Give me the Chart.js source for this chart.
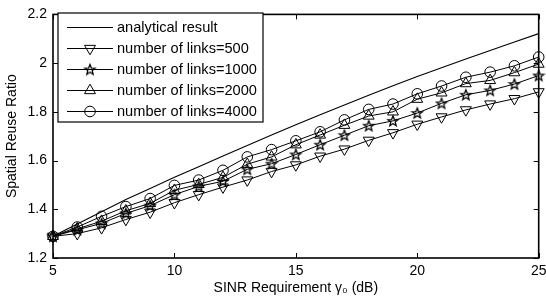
<!DOCTYPE html>
<html><head><meta charset="utf-8">
<script src="https://cdn.jsdelivr.net/npm/chart.js@4.4.1/dist/chart.umd.min.js"></script>
<style>html,body{margin:0;padding:0;background:#fff}#wrap{width:546px;height:303px}</style>
</head><body><div id="wrap"><canvas id="c" width="546" height="303"></canvas></div>
<script>
const sinr = [5,6,7,8,9,10,11,12,13,14,15,16,17,18,19,20,21,22,23,24,25];
const analytical = [1.289,1.340,1.390,1.440,1.485,1.531,1.575,1.619,1.662,1.705,1.747,1.788,1.828,1.868,1.907,1.945,1.981,2.017,2.052,2.087,2.121];
const links500  = [1.289,1.300,1.324,1.358,1.388,1.427,1.460,1.491,1.520,1.555,1.582,1.618,1.647,1.683,1.714,1.749,1.779,1.808,1.832,1.854,1.882];
const links1000 = [1.289,1.316,1.342,1.383,1.415,1.460,1.494,1.515,1.564,1.587,1.625,1.665,1.704,1.743,1.763,1.795,1.835,1.870,1.888,1.914,1.949];
const links2000 = [1.289,1.320,1.351,1.394,1.424,1.478,1.502,1.531,1.585,1.615,1.665,1.705,1.745,1.783,1.800,1.852,1.878,1.916,1.929,1.961,1.996];
const links4000 = [1.289,1.327,1.371,1.411,1.444,1.498,1.520,1.560,1.615,1.645,1.681,1.718,1.767,1.810,1.832,1.874,1.906,1.942,1.963,1.989,2.025];
const seriesLabels = ['analytical result','number of links=500','number of links=1000','number of links=2000','number of links=4000'];
const xTicks = [5,10,15,20,25];
const xTickLabels = ['5','10','15','20','25'];
const yTicks = [1.2,1.4,1.6,1.8,2.0,2.2];
const yTickLabels = ['1.2','1.4','1.6','1.8','2','2.2'];
const xTitle = 'SINR Requirement γ₀ (dB)';
const yTitle = 'Spatial Reuse Ratio';

// pentagram marker
function makeStar(){
  const cv = document.createElement('canvas');
  cv.width = 14; cv.height = 14;
  const g = cv.getContext('2d');
  g.strokeStyle = '#000'; g.lineWidth = 1.3;
  g.lineJoin = 'miter';
  g.beginPath();
  for (let i = 0; i < 10; i++) {
    const r = i % 2 === 0 ? 5.4 : 2.3;
    const a = -Math.PI/2 + i*Math.PI/5;
    const px = 7 + r*Math.cos(a), py = 7.4 + r*Math.sin(a);
    if (i === 0) g.moveTo(px, py); else g.lineTo(px, py);
  }
  g.closePath(); g.stroke();
  return cv;
}
const starImg = makeStar();

const FONT = "'Liberation Sans', Arial, Helvetica, sans-serif";
Chart.defaults.font.family = FONT;
Chart.defaults.font.size = 14;
Chart.defaults.color = '#000';

const pts = arr => arr.map((v,i)=>({x:sinr[i], y:v}));
const mk = (label, data, style, rot, r) => ({
  label, data: pts(data), borderColor:'#000', borderWidth:1,
  backgroundColor:'rgba(0,0,0,0)', pointBackgroundColor:'rgba(0,0,0,0)',
  pointBorderColor:'#000', pointBorderWidth:1,
  pointStyle: style, pointRotation: rot, pointRadius: r, pointHoverRadius: r,
  tension:0, clip:false
});
const datasets = [
  {label: seriesLabels[0], data: pts(analytical), borderColor:'#000', borderWidth:1.1, pointRadius:0, tension:0, clip:false, backgroundColor:'rgba(0,0,0,0)'},
  mk(seriesLabels[1], links500, 'triangle', 180, 6.3),
  mk(seriesLabels[2], links1000, starImg, 0, 5),
  mk(seriesLabels[3], links2000, 'triangle', 0, 6.3),
  mk(seriesLabels[4], links4000, 'circle', 0, 5.3)
];

const frame = {
  id:'frame',
  afterDraw(chart){
    const ctx = chart.ctx, a = chart.chartArea;
    const xs = chart.scales.x, ys = chart.scales.y;
    ctx.save();
    ctx.strokeStyle = '#000';
    ctx.lineWidth = 1;
    ctx.beginPath();
    xTicks.forEach(v=>{
      const p = Math.round(xs.getPixelForValue(v)) + 0.5;
      ctx.moveTo(p, a.bottom); ctx.lineTo(p, a.bottom-5);
      ctx.moveTo(p, a.top); ctx.lineTo(p, a.top+5);
    });
    yTicks.forEach(v=>{
      const p = Math.round(ys.getPixelForValue(v)) + 0.5;
      ctx.moveTo(a.left, p); ctx.lineTo(a.left+5, p);
      ctx.moveTo(a.right, p); ctx.lineTo(a.right-5, p);
    });
    ctx.stroke();
    ctx.lineWidth = 1.6;
    ctx.strokeRect(a.left, a.top, a.right-a.left, a.bottom-a.top);

    // legend
    const bx = 58, by = 13, bw = 205, bh = 109;
    ctx.fillStyle = '#fff';
    ctx.fillRect(bx, by, bw, bh);
    ctx.lineWidth = 1.2;
    ctx.strokeRect(bx, by, bw, bh);
    ctx.font = '14.6px ' + FONT;
    ctx.textBaseline = 'middle';
    ctx.textAlign = 'left';
    chart.data.datasets.forEach((ds,i)=>{
      const y = 27 + i*21;
      ctx.strokeStyle = '#000'; ctx.lineWidth = 1;
      ctx.beginPath(); ctx.moveTo(67, y+0.5); ctx.lineTo(113, y+0.5); ctx.stroke();
      if (ds.pointRadius > 0) {
        ctx.fillStyle = 'rgba(0,0,0,0)';
        Chart.helpers.drawPoint(ctx, {pointStyle: ds.pointStyle, rotation: ds.pointRotation, radius: ds.pointRadius, borderWidth: 1}, 90, y+0.5);
      }
      ctx.fillStyle = '#000';
      ctx.fillText(ds.label, 117, y+1);
    });
    ctx.restore();
  }
};

new Chart(document.getElementById('c'), {
  type:'line',
  data:{datasets},
  options:{
    responsive:false, animation:false, devicePixelRatio:1,
    layout:{padding:{top:8, right:7, left:0, bottom:0}},
    plugins:{legend:{display:false}, tooltip:{enabled:false}},
    elements:{line:{borderJoinStyle:'miter'}},
    scales:{
      x:{
        type:'linear', min:5, max:25,
        afterBuildTicks: s => { s.ticks = xTicks.map(v=>({value:v})); },
        afterFit: s => { s.height = 45; s.paddingLeft = 0; s.paddingRight = 0; },
        grid:{display:false, drawTicks:false}, border:{display:false},
        ticks:{padding:5, maxRotation:0, autoSkip:false, callback:(v,i)=>xTickLabels[i]},
        title:{display:true, text:xTitle, padding:{top:0,bottom:6}, font:{size:14}}
      },
      y:{
        type:'linear', min:1.2, max:2.2,
        afterBuildTicks: s => { s.ticks = yTicks.map(v=>({value:v})); },
        afterFit: s => { s.width = 53; },
        grid:{display:false, drawTicks:false}, border:{display:false},
        ticks:{padding:6, autoSkip:false, callback:(v,i)=>yTickLabels[i]},
        title:{display:true, text:yTitle, padding:{top:4,bottom:0}, font:{size:14}}
      }
    }
  },
  plugins:[frame]
});
</script></body></html>
